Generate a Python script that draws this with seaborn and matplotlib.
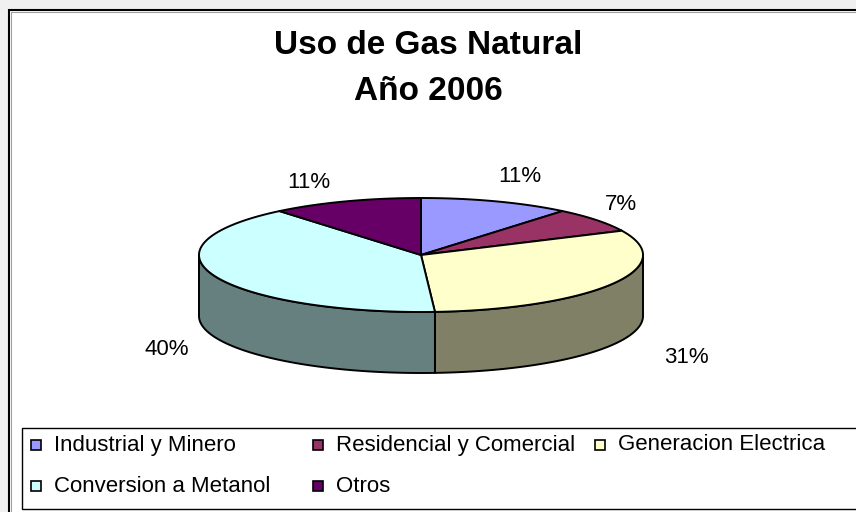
import numpy as np
import matplotlib
matplotlib.use("Agg")
import matplotlib.pyplot as plt
import seaborn as sns
from matplotlib.patches import Polygon, Rectangle
from matplotlib.colors import to_rgb

# --- data -------------------------------------------------------------
categories = ["Industrial y Minero", "Residencial y Comercial",
              "Generacion Electrica", "Conversion a Metanol", "Otros"]
shares = [11, 7, 31, 40, 11]
pct_labels = ["11%", "7%", "31%", "40%", "11%"]
title_lines = ["Uso de Gas Natural", "Año 2006"]

# --- style ------------------------------------------------------------
sns.set_theme(style="white")
plt.rcParams["font.family"] = ["Liberation Sans", "DejaVu Sans"]
top_colors = sns.color_palette(["#9999FF", "#993366", "#FFFFCC", "#CCFFFF", "#660066"])
side_colors = [tuple(0.5 * c for c in to_rgb(col)) for col in top_colors]

# pie geometry (canvas pixels, y pointing down)
CX, CY = 421, 255
RX, RY = 222, 57
DEPTH = 61
# radial placement of the percentage labels (x factor, y distance)
label_place = [(1.32, 83), (1.14, 83), (1.39, 81), (1.23, 90), (1.49, 77)]

fig = plt.figure(figsize=(8.56, 5.12), dpi=100)
fig.patch.set_facecolor("#F0F0F0")
ax = fig.add_axes([0, 0, 1, 1])
ax.set_xlim(0, 856)
ax.set_ylim(512, 0)
ax.axis("off")

# chart area with its inner shadow line
ax.add_patch(Rectangle((9.5, 9.5), 870, 520, facecolor="white",
                       edgecolor="black", lw=1.5, zorder=0))
ax.add_patch(Rectangle((11.5, 11.5), 870, 520, facecolor="none",
                       edgecolor="#A0A0A0", lw=0.8, zorder=0))


def rim(t0, t1, n=200):
    t = np.radians(np.linspace(t0, t1, n))
    return CX + RX * np.sin(t), CY - RY * np.cos(t)


fracs = np.asarray(shares, dtype=float) / sum(shares)
bounds = np.concatenate([[0.0], np.cumsum(fracs) * 360.0])

# side walls (front half only: 90..270 degrees clockwise from top)
for i in range(len(shares)):
    a, b = max(bounds[i], 90.0), min(bounds[i + 1], 270.0)
    if b <= a:
        continue
    x, y = rim(a, b)
    xs = np.concatenate([x, x[::-1]])
    ys = np.concatenate([y, (y + DEPTH)[::-1]])
    ax.add_patch(Polygon(np.column_stack([xs, ys]), closed=True,
                         facecolor=side_colors[i], edgecolor="black",
                         lw=1.4, joinstyle="round", zorder=2))

# top faces
for i in range(len(shares)):
    x, y = rim(bounds[i], bounds[i + 1])
    xs = np.concatenate([[CX], x])
    ys = np.concatenate([[CY], y])
    ax.add_patch(Polygon(np.column_stack([xs, ys]), closed=True,
                         facecolor=top_colors[i], edgecolor="black",
                         lw=1.4, joinstyle="round", zorder=3))

# percentage labels
for i, lab in enumerate(pct_labels):
    m = np.radians((bounds[i] + bounds[i + 1]) / 2)
    kx, dy = label_place[i]
    lx = CX + kx * RX * np.sin(m)
    ly = CY - dy * np.cos(m) + (DEPTH if np.cos(m) < 0 else 0)
    ax.text(lx, ly, lab, ha="center", va="center", fontsize=16, color="black")

# title
ax.text(428, 46, title_lines[0], ha="center", va="center",
        fontsize=24, fontweight="bold", color="black")
ax.text(428, 91, title_lines[1], ha="center", va="center",
        fontsize=24, fontweight="bold", color="black")

# legend box with equally spaced columns
ax.add_patch(Rectangle((22.5, 427.5), 860, 81, facecolor="white",
                       edgecolor="black", lw=1.0, zorder=1))
col_x = [31, 313, 595]
row_y = [445, 486]
for i, name in enumerate(categories):
    c, r = i % 3, i // 3
    ax.add_patch(Rectangle((col_x[c], row_y[r] - 5), 10, 10,
                           facecolor=top_colors[i], edgecolor="black",
                           lw=1.2, zorder=2))
    ax.text(col_x[c] + 23, row_y[r], name, ha="left", va="center",
            fontsize=16, color="black")

fig.savefig("out.png", dpi=100, facecolor=fig.get_facecolor())
